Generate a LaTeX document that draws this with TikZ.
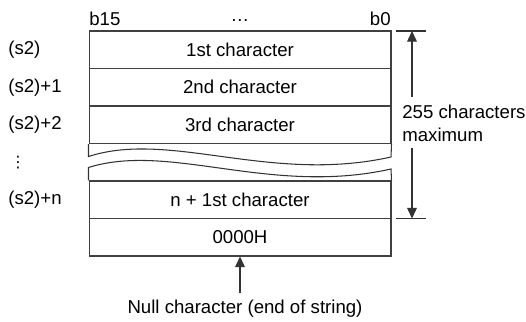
\documentclass[tikz,border=0pt]{standalone}
\usepackage{fontspec}
\setmainfont{Liberation Sans}
\newfontfamily\symfont{DejaVu Sans}
\usepackage{tikz}
\usetikzlibrary{arrows.meta}
\tikzset{
  cell/.style={draw=black!75,line width=0.6pt,minimum width=6.04cm,minimum height=0.75cm,inner sep=0pt},
  lbl/.style={anchor=west,inner sep=0pt},
  wire/.style={draw=black!80,line width=0.6pt}
}
\begin{document}
\begin{tikzpicture}[x=0.02cm,y=-0.02cm,>={Triangle[width=5.5pt,length=6pt]},font=\fontsize{10.6}{13}\selectfont]
  \useasboundingbox (0,0) rectangle (526,321);
  \node[cell] (c1) at (240,49.75) {1st character};
  \node[cell] (c2) at (240,87.25) {2nd character};
  \node[cell] (c3) at (240,124.75) {3rd character};
  \node[cell] (cn) at (240,199.75) {n + 1st character};
  \node[cell] (nul) at (240,237.25) {0000H};
  \draw[wire] (c3.south west) -- ++(0,12.5) .. controls (170,130) and (270,184) .. (391,157) -- (c3.south east);
  \draw[wire] (cn.north west) -- ++(0,-13) .. controls (170,142) and (270,196) .. (391,169) -- (cn.north east);
  \node[anchor=west,inner sep=0pt] (b15) at (89,19) {b15};
  \node (dots) at (240,21) {\dots};
  \node[anchor=east,inner sep=0pt] (b0) at (391,19) {b0};
  \node[lbl] (a0) at (8,49.75) {(s2)};
  \node[lbl] (a1) at (8,87.25) {(s2)+1};
  \node[lbl] (a2) at (8,124.75) {(s2)+2};
  \node[inner sep=0pt] (vd) at (18,163) {\symfont\fontsize{9}{9}\selectfont ⋮};
  \node[lbl] (an) at (8,199.75) {(s2)+n};
  \coordinate (tt) at (412,31);
  \coordinate (tb) at (412,218.5);
  \draw[wire] (396,31) -- (426,31);
  \draw[wire] (396,218.5) -- (426,218.5);
  \node[anchor=west,align=left,inner sep=0pt] (maxlbl) at (402,123.5) {255 characters\\maximum};
  \draw[wire,->] ([yshift=4.5pt]maxlbl.north -| tt) -- (tt);
  \draw[wire,->] ([yshift=-3.5pt]maxlbl.south -| tb) -- (tb);
  \node[inner sep=0pt] (nullbl) at (245,309) {Null character (end of string)};
  \draw[wire,->] ([yshift=4pt]nullbl.north -| nul.south) -- (nul.south);
\end{tikzpicture}
\end{document}
